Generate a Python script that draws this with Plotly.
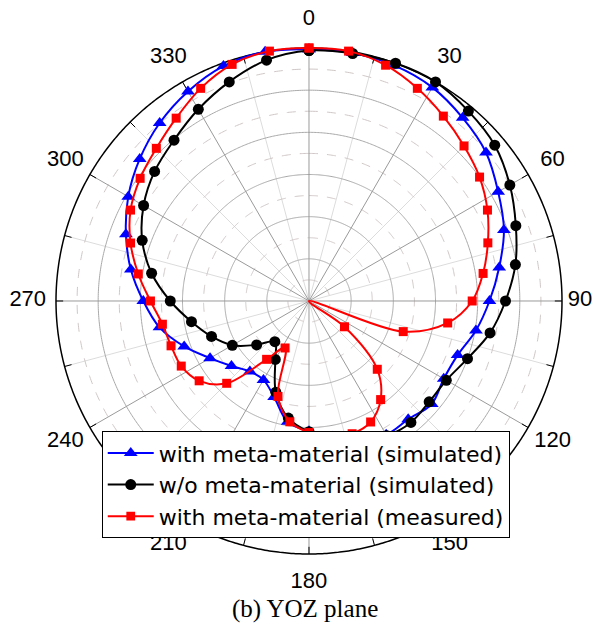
import numpy as np
import plotly.graph_objects as go

# ---------------- data (dB, normalised) ----------------
angles_sim = list(range(0, 360, 10))      # simulated curves, 10 deg step
angles_meas = list(range(0, 360, 9))      # measured curve, 9 deg step

blue_db = [-0.15, -0.15, -0.3, -0.75, -1.65, -2.6, -4.1, -5.4, -7.1, -8.6,
           -9.9, -11.25, -11.55, -11.0, -11.7, -11.7, -12.6, -13.65, -14.55, -15.45,
           -17.9, -19.2, -19.1, -18.0, -16.45, -14.25, -12.0, -10.35, -8.55, -6.9,
           -5.25, -3.8, -2.45, -1.3, -0.35, 0.0]

black_db = [-0.3, -0.2, 0.0, 0.0, -0.6, -1.25, -2.5, -3.9, -5.15, -6.7,
            -8.2, -10.0, -11.2, -11.4, -11.2, -11.55, -12.45, -13.5, -14.5, -15.9,
            -18.5, -22.0, -23.7, -21.9, -19.5, -17.7, -15.85, -13.55, -11.05, -8.95,
            -7.35, -6.1, -5.1, -3.75, -2.35, -1.0]

red_db = [0.0, 0.0, -0.6, -1.7, -2.9, -4.0, -5.0, -6.25, -7.7, -9.1,
          -10.65, -13.35, -18.25, -30.0, -24.8, -18.55, -15.55, -13.9, -13.45, -13.65,
          -14.4, -15.5, -18.1, -23.75, -21.45, -16.2, -13.9, -13.0, -12.8, -12.4,
          -11.2, -9.5, -7.75, -6.25, -5.25, -4.4, -3.2, -1.7, -0.5, 0.0]

angle_ticks = list(range(0, 360, 15))
label_angles = list(range(0, 360, 30))
label_texts = [str(a) for a in label_angles]

r_min, r_max = -30, 0          # plotted dB range (outer circle = 0 dB)
r_label = 3.35                 # ring on which angle labels sit (outside the circle)
r_label_side = 2.15            # the "90" label sits a bit closer (page edge)
r_axis_top = 3.4               # radial axis extends a little past the circle for the labels
solid_rings = [-25, -20, -15, -10, -5]
dashed_rings = [-27.5, -22.5, -17.5, -12.5, -7.5, -2.5]
major_spokes = list(range(0, 360, 30))

series_names = ["with meta-material (simulated)",
                "w/o meta-material (simulated)",
                "with meta-material (measured)"]

# ---------------- figure ----------------
fig = go.Figure()
ring_theta = np.linspace(0, 360, 721)


def add_guide(r, theta, color, width=1, dash="solid"):
    fig.add_trace(go.Scatterpolar(r=r, theta=theta, mode="lines",
                                  line=dict(color=color, width=width, dash=dash),
                                  showlegend=False, hoverinfo="skip"))


for a in angle_ticks:                       # light 15-degree spokes
    if a % 30:
        add_guide([r_min, r_max], [a, a], "#dcdcdc")
for rv in dashed_rings:                     # dashed minor rings
    add_guide([rv] * len(ring_theta), ring_theta, "#cfc6c6", dash="dash")
for rv in solid_rings:                      # solid major rings
    add_guide([rv] * len(ring_theta), ring_theta, "#a8a8a8")
for a in major_spokes:                      # 30-degree spokes
    add_guide([r_min, r_max], [a, a], "#9a9a9a")
for a in angle_ticks:                       # inward ticks on the outer circle
    add_guide([r_max - 0.85, r_max], [a, a], "#000000")
add_guide([r_max] * len(ring_theta), ring_theta, "#000000", width=1.5)   # outer circle

label_r = [r_label_side if a == 90 else r_label for a in label_angles]
fig.add_trace(go.Scatterpolar(r=label_r, theta=label_angles,
                              mode="text", text=label_texts, textposition="middle center",
                              textfont=dict(family="Liberation Sans, Arial", size=22, color="black"),
                              cliponaxis=False, showlegend=False, hoverinfo="skip"))


def closed(th, rr):
    return list(th) + [th[0]], list(rr) + [rr[0]]


th_b, r_b = closed(angles_sim, blue_db)
fig.add_trace(go.Scatterpolar(r=r_b, theta=th_b, mode="lines+markers", name=series_names[0],
                              line=dict(color="#0000ff", width=2, shape="spline", smoothing=1),
                              marker=dict(symbol="triangle-up", size=12, color="#0000ff",
                                          opacity=1, line=dict(width=0))))

th_k, r_k = closed(angles_sim, black_db)
fig.add_trace(go.Scatterpolar(r=r_k, theta=th_k, mode="lines+markers", name=series_names[1],
                              line=dict(color="#000000", width=2, shape="spline", smoothing=1),
                              marker=dict(symbol="circle", size=11, color="#000000",
                                          opacity=1, line=dict(width=0))))

th_r, r_r = closed(angles_meas, red_db)
red_sizes = [0 if v <= r_min else 9 for v in r_r]
fig.add_trace(go.Scatterpolar(r=r_r, theta=th_r, mode="lines+markers", name=series_names[2],
                              line=dict(color="#ff0000", width=2, shape="spline", smoothing=1),
                              marker=dict(symbol="square", size=red_sizes, color="#ff0000",
                                          opacity=1, line=dict(width=0))))

# circle centre (309, 301) px, 0 dB radius 253 px -> full axis radius
R_full = 253 * (r_axis_top - r_min) / (r_max - r_min)
cx, cy, W, H = 309, 301, 595, 624
fig.update_layout(
    width=W, height=H,
    margin=dict(l=0, r=0, t=0, b=0),
    paper_bgcolor="white",
    polar=dict(
        domain=dict(x=[(cx - R_full) / W, (cx + R_full) / W],
                    y=[(H - cy - R_full) / H, (H - cy + R_full) / H]),
        bgcolor="rgba(0,0,0,0)",
        angularaxis=dict(rotation=90, direction="clockwise",
                         showticklabels=False, ticks="", showgrid=False, showline=False),
        radialaxis=dict(range=[r_min, r_axis_top], showgrid=False,
                        showticklabels=False, ticks="", showline=False),
    ),
    legend=dict(x=0.171, y=0.309, xanchor="left", yanchor="top",
                bgcolor="white", bordercolor="black", borderwidth=1,
                itemwidth=46,
                font=dict(family="DejaVu Sans", size=22, color="black"),
                tracegroupgap=0),
    annotations=[dict(text="(b) YOZ plane", x=0.512, y=0.024, xref="paper", yref="paper",
                      showarrow=False, xanchor="center", yanchor="middle",
                      font=dict(family="Liberation Serif, Times New Roman", size=25, color="black"))],
)

fig.write_html("out.html", config={"displayModeBar": False},
               post_script="document.body.style.margin='0px';")
